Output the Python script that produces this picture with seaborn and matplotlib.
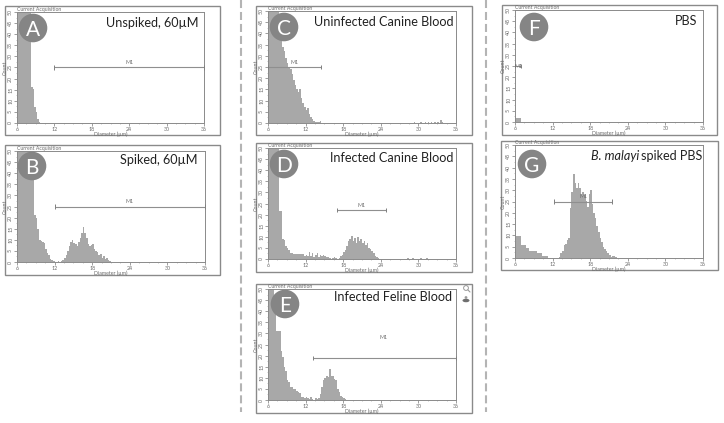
import numpy as np
import pandas as pd
import seaborn as sns
import matplotlib
matplotlib.use("Agg")
import matplotlib.pyplot as plt
from matplotlib.patches import Rectangle, Circle, Ellipse

sns.set_theme(style="white")
plt.rcParams['font.family'] = ['Lato', 'DejaVu Sans']

BIN = 0.25
START = 6
# counts per 0.25 um bin (tall bars run off the 50-count scale)
counts_A = [60]*9 + [16, 15.5, 7, 5, 2, 0.5]
counts_B = [60]*11 + [21, 20, 15, 10, 9.5, 9, 8.5, 6, 4, 3, 1.5, 1, 0.5, 0, 0, 0.3, 0, 0.5, 1, 2, 3, 5, 7, 9, 10,
            8.5, 8, 7, 9, 11, 13, 15.7, 13, 11, 8, 7, 7.5, 8, 6, 5, 4.5, 3, 3.5, 2, 2.5, 1.5, 2, 1, 0.5]
counts_C = [60]*7 + [45, 40, 34, 32, 29, 27, 25, 24, 22, 19, 17, 15, 14, 15, 11, 9, 7, 6, 6.5, 4, 2.5, 2, 1, 0.5,
            0.5, 0.3, 0.8] + [0]*56 + [0.2, 0, 0, 0.3, 0, 0.2, 0, 0.4, 0, 0, 0.5, 0, 0.3, 0, 0.5, 0, 0.6, 0, 0.4, 0, 1.5, 0.3]
counts_D = [60]*7 + [21.5, 21.5, 9, 8.5, 6, 4.8, 4, 2.5, 2.5, 2.2, 2.2, 2.2, 2.2, 2.2, 2.2, 2.2, 1.5, 2, 1.5, 3, 1.5,
            2.5, 1, 2, 2.5, 1, 2, 1.5, 2, 1.5, 1, 0.8, 0.3, 0, 0.5, 0.8, 0.5, 0, 0.6,
            1.5, 2, 3, 4, 6, 8, 9, 10.5, 8, 9.5, 7, 10, 8, 9, 7, 8, 6.5, 7, 5, 4.5, 3.5, 2.5, 1.5, 1, 0.5] \
           + [0]*16 + [0.2, 0, 0.3, 0.2, 0, 0.3, 0, 0, 0.2, 0, 0.3, 0, 0.2, 0, 0.5, 0.2]
counts_E = [60]*4 + [45, 31, 31, 31, 22, 19.5, 15, 13, 9, 8, 6, 6, 5, 5, 4, 3.7, 3,
            1.5, 1.2, 0.8, 1.5, 0.8, 0.3, 1.2, 0.5, 0, 1, 0.3, 1, 2.5, 6, 9, 10, 11, 10.5, 13.8, 11, 11, 9.5, 9, 5,
            3.7, 2, 1.5, 1, 0.3]
counts_F = [2, 2, 2, 2]
counts_G = [9.6]*4 + [5.6, 5.6, 5.6, 4.5, 4.5, 3, 3, 3, 3, 3, 2.4, 2.4, 2.4, 1, 1, 1, 1, 0, 0, 0, 0, 0, 0, 0,
            0.5, 2, 3, 5.6, 6, 8, 9, 22, 29, 37, 33, 31, 33, 31, 28.5, 29, 28, 25, 22.6, 28.5, 30, 24, 20, 17.5, 14,
            11.5, 9, 7, 5, 4, 3, 2, 1.5, 0.5, 1, 1, 0.3]

panel_names = ["A", "B", "C", "D", "E", "F", "G"]
titles = ["Unspiked, 60µM", "Spiked, 60µM", "Uninfected Canine Blood", "Infected Canine Blood",
          "Infected Feline Blood", "PBS", None]
panel_counts = [counts_A, counts_B, counts_C, counts_D, counts_E, counts_F, counts_G]
gate_start = [12, 12, 6, 17, 13.2, 6, 12.3]
gate_end = [36, 36, 14.5, 24.9, 36, 7, 21.5]
gate_level = [25, 25, 25, 22, 19, 25, 25]
gate_label_y = [26, 26, 26, 23, 27, 25, 26]
x_ticks = [6, 12, 18, 24, 30, 36]
y_ticks = [0, 5, 10, 15, 20, 25, 30, 35, 40, 45, 50]

# layout, in reference pixels
plot_boxes = [(17, 12, 204, 123), (17, 151, 205, 262), (268, 11, 456, 123), (268, 148, 456, 259),
              (268, 289, 456, 400), (515, 10, 703, 122), (515, 145, 703, 258)]
outer_boxes = [(5, 6, 220, 135), (5, 145, 220, 275), (256, 6, 472, 135), (256, 143, 472, 272),
               (256, 284, 472, 413), (502, 5, 717, 135), (501, 141, 718, 270)]
circles = [(33, 28), (32, 166), (284, 27), (284, 164), (285, 304), (534, 27), (532, 164)]
title_pos = [(198, 23), (198, 160), (453, 22), (453, 158), (452, 297), (697, 21), (702, 156)]

W, H = 724, 423
fig = plt.figure(figsize=(W/100, H/100), dpi=100, facecolor="white")

under = fig.add_axes([0, 0, 1, 1], zorder=0)
under.set_xlim(0, W); under.set_ylim(H, 0); under.axis("off")
over = fig.add_axes([0, 0, 1, 1], zorder=5)
over.set_xlim(0, W); over.set_ylim(H, 0); over.axis("off"); over.patch.set_alpha(0)

for x0, y0, x1, y1 in outer_boxes:
    under.add_patch(Rectangle((x0, y0), x1-x0, y1-y0, fill=False, ec="#8a8a8a", lw=1.0))
for x in (241, 486):
    under.plot([x, x], [0, 412], color="#b4b4b4", lw=1.5, ls=(0, (3.85, 1.9)))

TXT = "#6a6a6a"
for i, name in enumerate(panel_names):
    x0, y0, x1, y1 = plot_boxes[i]
    ax = fig.add_axes([x0/W, 1-y1/H, (x1-x0)/W, (y1-y0)/H], zorder=2)
    ax.patch.set_alpha(0)
    c = panel_counts[i]
    edges = START + BIN*np.arange(len(c)+1)
    df = pd.DataFrame({"Diameter": edges[:-1] + BIN/2, "Count": c})
    sns.histplot(data=df, x="Diameter", weights="Count", bins=edges.tolist(), element="step", fill=True,
                 color="#a8a8a8", alpha=1, linewidth=0, ax=ax)
    ax.set_xlim(6, 36); ax.set_ylim(0, 50)
    ax.set_xticks(x_ticks); ax.set_yticks(y_ticks)
    ax.set_xticks(np.arange(6, 36.1, 1.5), minor=True)
    ax.set_yticks(np.arange(0, 50.1, 2.5), minor=True)
    ax.tick_params(axis="both", which="major", length=2, width=0.5, color="#777777", labelsize=3.8,
                   labelcolor=TXT, pad=0.8, bottom=True, left=True)
    ax.tick_params(axis="both", which="minor", length=1, width=0.4, color="#999999", bottom=True, left=True)
    for t in ax.get_yticklabels():
        t.set_rotation(90); t.set_va("center")
    for s in ax.spines.values():
        s.set_color("#8a8a8a"); s.set_linewidth(0.7)
    ax.set_xlabel("Diameter (µm)", fontsize=3.8, color=TXT, labelpad=0)
    ax.set_ylabel("Count", fontsize=3.8, color=TXT, labelpad=0.5)
    ax.text(0.0, 1.003, "Current Acquisition", transform=ax.transAxes, fontsize=3.7, color=TXT, va="bottom")

    a, b, lv = gate_start[i], gate_end[i], gate_level[i]
    ax.hlines(lv, a, b, color="#8f8f8f", lw=0.8, zorder=4)
    ax.vlines([a, b], lv-1, lv+1, color="#7f7f7f", lw=0.7, zorder=4, clip_on=False)
    lx = (a + b)/2 if name != "E" else 24.4
    ax.text(lx, gate_label_y[i], "M1", fontsize=3.8, color=TXT, ha="center", va="bottom" if name != "F" else "center", zorder=4)

    cx, cy = circles[i]
    over.add_patch(Circle((cx, cy), 14.3, color="#858585", lw=0))
    over.text(cx, cy, name, color="white", fontsize=15, ha="center", va="center_baseline")
    tx, ty = title_pos[i]
    if titles[i]:
        over.text(tx, ty, titles[i], color="#222222", fontsize=9.1, ha="right", va="center")
    else:
        over.text(tx, ty, "spiked PBS", color="#222222", fontsize=9.1, ha="right", va="center")
        over.text(639, ty, "B. malayi", color="#222222", fontsize=9.1, ha="right", va="center", style="italic")

over.add_patch(Circle((466, 288), 2.4, fill=False, ec="#9a9a9a", lw=0.7))
over.plot([468, 470], [290, 292], color="#9a9a9a", lw=0.8)
over.add_patch(Ellipse((466, 300.5), 7, 3.5, color="#6f6f6f", lw=0))
over.add_patch(Circle((466, 297.5), 1.4, color="#9a9a9a", lw=0))

fig.savefig("out.png", dpi=100, facecolor="white")
